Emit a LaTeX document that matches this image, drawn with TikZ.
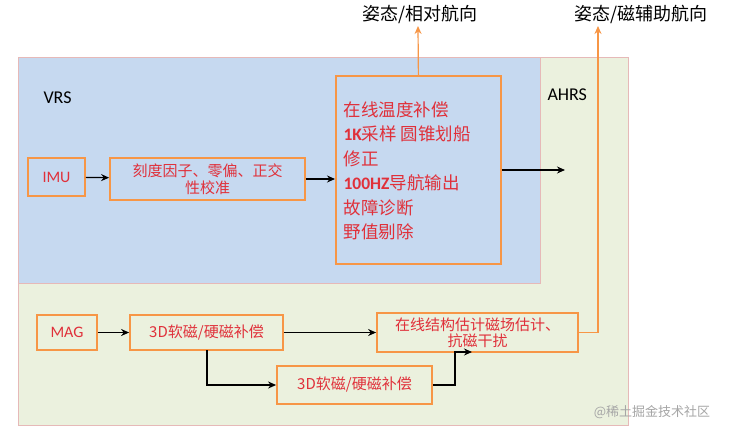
\documentclass[tikz,border=0pt]{standalone}
\usepackage{fontspec}
\setmainfont{Carlito}
\newfontfamily\cjk{Noto Sans CJK SC}
\usetikzlibrary{arrows.meta}
\definecolor{vrsfill}{HTML}{C6D9F0}
\definecolor{ahrsfill}{HTML}{EBF1DE}
\definecolor{pinkb}{HTML}{E6B9B8}
\definecolor{orng}{HTML}{F79646}
\definecolor{redt}{HTML}{E0303A}
\tikzset{
  x=1pt,y=-1pt,
  box/.style={draw=orng,line width=1.8pt,text=redt,inner sep=1pt,align=center},
  arr/.style={-{Stealth[length=8pt,width=7pt]},line width=1.2pt,black},
  oarr/.style={-{Stealth[length=8pt,width=7pt]},line width=1.2pt,orng},
}
\begin{document}
\begin{tikzpicture}
\useasboundingbox (0,0) rectangle (734,437);
\fill[white] (0,0) rectangle (734,437);
\node[draw=pinkb,line width=1.4pt,fill=ahrsfill,minimum width=610,minimum height=368,anchor=north west] (ahrs) at (18,57) {};
\node[draw=pinkb,line width=1.4pt,fill=vrsfill,minimum width=522,minimum height=226,anchor=north west] (vrs) at (18,57) {};
\node[anchor=west,font=\fontsize{18}{20}\selectfont] (vrsl) at (40,98) {VRS};
\node[anchor=west,font=\fontsize{18}{20}\selectfont] (ahrsl) at (544,95) {AHRS};
\node[box,minimum width=57,minimum height=38,font=\fontsize{16}{18}\selectfont] (imu) at (56.5,177) {IMU};
\node[box,minimum width=195,minimum height=42,font=\cjk\fontsize{15}{17}\selectfont] (cal) at (207.5,179) {刻度因子、零偏、正交\\性校准};
\node[box,minimum width=165,minimum height=188,anchor=north west] (proc) at (335,75) {};
\node[anchor=north west,text=redt,align=left,font=\cjk\fontsize{17.5}{24.5}\selectfont] (proct) at (340,98) {在线温度补偿\\{\bfseries\rmfamily 1K}采样 圆锥划船\\修正\\{\bfseries\rmfamily 100HZ}导航输出\\故障诊断\\野值剔除};
\node[box,minimum width=60,minimum height=35,font=\fontsize{16}{18}\selectfont] (mag) at (67,332.5) {MAG};
\node[box,minimum width=153,minimum height=35,font=\cjk\fontsize{15}{17}\selectfont] (soft1) at (206.5,332.5) {3D软磁/硬磁补偿};
\node[box,minimum width=201,minimum height=39,font=\cjk\fontsize{15}{16}\selectfont] (online) at (477.5,332.5) {在线结构估计磁场估计、\\抗磁干扰};
\node[box,minimum width=155,minimum height=38,font=\cjk\fontsize{15}{17}\selectfont] (soft2) at (354.5,385) {3D软磁/硬磁补偿};
\node[font=\cjk\fontsize{18}{20}\selectfont] (out1) at (420,14) {姿态/相对航向};
\node[font=\cjk\fontsize{18}{20}\selectfont] (out2) at (641,14) {姿态/磁辅助航向};
\node[text=gray!70,font=\cjk\fontsize{13}{15}\selectfont] (wm) at (652,412) {@稀土掘金技术社区};
\coordinate (ahrsout) at (565,170);
\draw[arr] (imu) -- (cal);
\draw[arr] (cal) -- (proc.west |- cal);
\draw[arr] (proc.east |- ahrsout) -- (ahrsout);
\draw[oarr] (proc.north) -- (418,26);
\draw[arr] (mag) -- (soft1);
\draw[arr] (soft1) -- (online.west |- soft1);
\draw[arr] (207,350) |- (soft2.west);
\draw[arr] (soft2.east) -- (455,385) -- (455,352) -- (472,352);
\draw[oarr] (online.east) -- (598,332.5) -- (598,26);
\end{tikzpicture}
\end{document}
